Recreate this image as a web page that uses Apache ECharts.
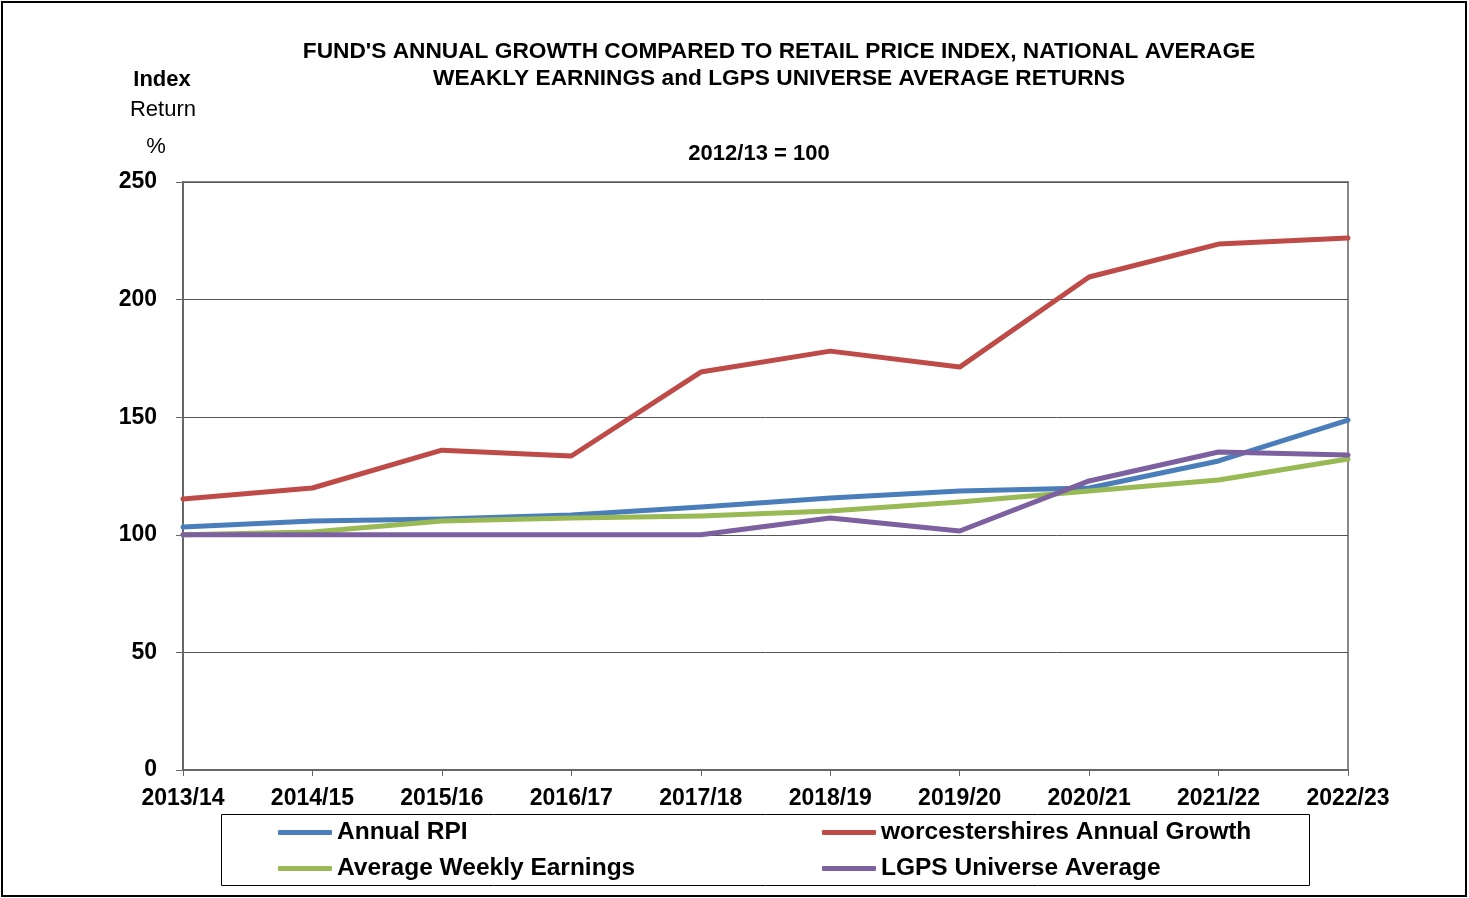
<!DOCTYPE html>
<html><head><meta charset="utf-8">
<script src="https://cdn.jsdelivr.net/npm/echarts@6/dist/echarts.min.js"></script>
<style>html,body{margin:0;padding:0;background:#fff}#c{width:1469px;height:898px}</style>
</head><body><div id="c"></div>
<script>
const categories = ['2013/14','2014/15','2015/16','2016/17','2017/18','2018/19','2019/20','2020/21','2021/22','2022/23'];
const annualRPI = [103.3,105.9,106.7,108.4,111.8,115.6,118.6,119.9,131.4,148.8];
const fundGrowth = [115.2,119.9,136.0,133.5,169.2,178.1,171.3,209.6,223.6,226.2];
const weeklyEarnings = [100.0,101.2,105.9,107.1,108.0,110.1,113.9,118.6,123.3,132.2];
const lgpsAverage = [100.0,100.0,100.0,100.0,100.0,107.1,101.6,122.9,135.2,133.9];
const yTicks = [0,50,100,150,200,250];

const F = '"Liberation Sans", Arial, sans-serif';
const chart = echarts.init(document.getElementById('c'));
function ser(name, data, color){
  return {name, type:'line', data, symbol:'none', smooth:false,
    lineStyle:{width:5, color, cap:'round', join:'round'}, itemStyle:{color}};
}
chart.setOption({
  animation:false,
  textStyle:{fontFamily:F},
  title:[
    {text:"FUND'S ANNUAL GROWTH COMPARED TO RETAIL PRICE INDEX, NATIONAL AVERAGE\nWEAKLY EARNINGS and LGPS UNIVERSE AVERAGE RETURNS",
     left:774, top:33, textAlign:'center',
     textStyle:{fontFamily:F, fontSize:22.7, fontWeight:'bold', color:'#000', lineHeight:27}},
    {text:'2012/13 = 100', left:754, top:138, textAlign:'center',
     textStyle:{fontFamily:F, fontSize:22, fontWeight:'bold', color:'#000'}},
    {text:'Index', left:157, top:64, textAlign:'center',
     textStyle:{fontFamily:F, fontSize:22, fontWeight:'bold', color:'#000'}},
    {text:'Return', left:158, top:94, textAlign:'center',
     textStyle:{fontFamily:F, fontSize:22, fontWeight:'normal', color:'#000'}},
    {text:'%', left:151, top:131, textAlign:'center',
     textStyle:{fontFamily:F, fontSize:22, fontWeight:'normal', color:'#000'}}
  ],
  grid:{left:183, right:121, top:182, bottom:128, containLabel:false,
    show:true, borderColor:'#888', borderWidth:2},
  xAxis:{type:'category', data:categories, boundaryGap:false,
    axisLine:{lineStyle:{color:'#666', width:2}},
    axisTick:{show:true, alignWithLabel:true, length:6, lineStyle:{color:'#666', width:1}},
    axisLabel:{fontFamily:F, fontSize:23, fontWeight:'bold', color:'#000', margin:17, interval:0},
    splitLine:{show:false}},
  yAxis:{type:'value', min:0, max:250, interval:50,
    axisLine:{show:true, lineStyle:{color:'#666', width:2}},
    axisTick:{show:true, length:7, lineStyle:{color:'#666'}},
    axisLabel:{fontFamily:F, fontSize:23, fontWeight:'bold', color:'#000', margin:26,
      formatter:v=> yTicks.includes(v)? String(v):''},
    splitLine:{show:true, lineStyle:{color:'#555', width:1}}},
  legend:[
    {orient:'vertical', left:278, top:820, padding:0, itemGap:11, itemWidth:54, itemHeight:5, icon:'roundRect',
     data:['Annual RPI','Average Weekly Earnings'],
     textStyle:{fontFamily:F, fontSize:24.5, fontWeight:'bold', color:'#000'}},
    {orient:'vertical', left:822, top:820, padding:0, itemGap:11, itemWidth:54, itemHeight:5, icon:'roundRect',
     data:['worcestershires Annual Growth','LGPS Universe Average'],
     textStyle:{fontFamily:F, fontSize:24.5, fontWeight:'bold', color:'#000'}}
  ],
  graphic:[
    {type:'rect', shape:{x:221.5, y:814.5, width:1088, height:71}, style:{fill:null, stroke:'#000', lineWidth:1}, z:-1},
    {type:'rect', shape:{x:2, y:2, width:1464, height:894}, style:{fill:null, stroke:'#000', lineWidth:2}, z:-1}
  ],
  series:[
    ser('Annual RPI', annualRPI, '#4A7EBB'),
    ser('worcestershires Annual Growth', fundGrowth, '#BE4B48'),
    ser('Average Weekly Earnings', weeklyEarnings, '#98B954'),
    ser('LGPS Universe Average', lgpsAverage, '#7D60A0')
  ]
});
</script></body></html>
